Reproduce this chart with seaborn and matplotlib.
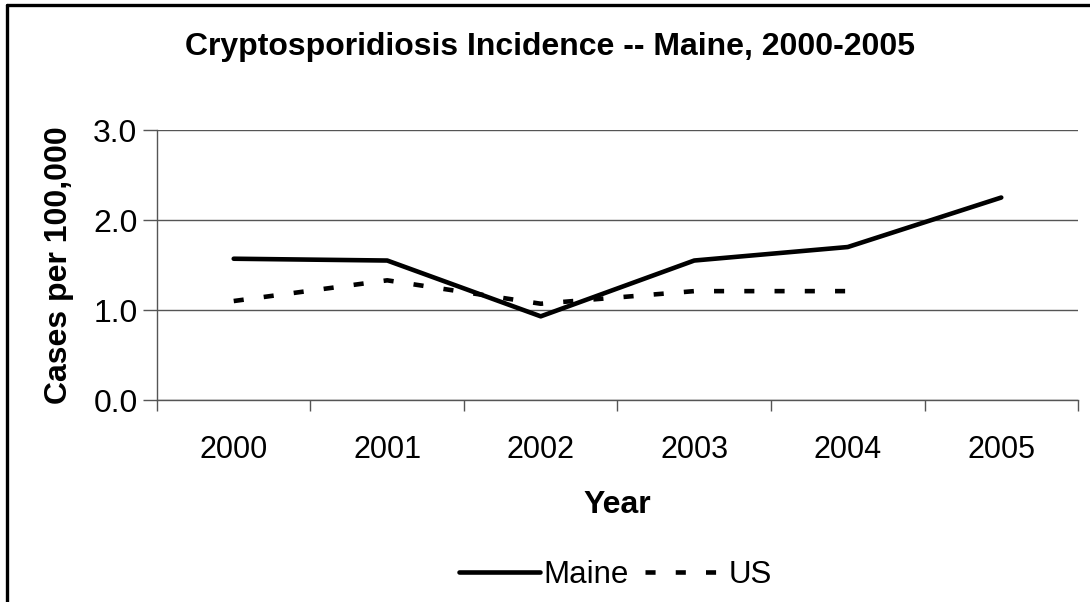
import matplotlib.pyplot as plt
import numpy as np
import pandas as pd
import seaborn as sns
from matplotlib.lines import Line2D

# データ
years = [2000, 2001, 2002, 2003, 2004, 2005]
maine_rate = [1.57, 1.55, 0.93, 1.55, 1.70, 2.25]
us_years = [2000, 2001, 2002, 2003, 2004]
us_rate = [1.10, 1.33, 1.07, 1.21, 1.21]
y_ticks = [0.0, 1.0, 2.0, 3.0]

sns.set_theme(style="white")
plt.rcParams["font.family"] = ["Liberation Sans", "DejaVu Sans"]
plt.rcParams["text.color"] = "black"
plt.rcParams["axes.labelcolor"] = "black"
plt.rcParams["xtick.labelcolor"] = "black"
plt.rcParams["ytick.labelcolor"] = "black"

maine_df = pd.DataFrame({"Year": years, "Rate": maine_rate})
us_df = pd.DataFrame({"Year": us_years, "Rate": us_rate})

fig = plt.figure(figsize=(10.9, 6.02), dpi=100)
ax = fig.add_axes([0.144, 0.3355, 0.845, 0.4485])

sns.lineplot(data=maine_df, x="Year", y="Rate", ax=ax, color="black",
             linewidth=3.3, label="Maine")
sns.lineplot(data=us_df, x="Year", y="Rate", ax=ax, color="black",
             linewidth=3.3, label="US")
ax.lines[1].set_dashes((2.2, 4.4))

ax.set_xlim(years[0] - 0.5, years[-1] + 0.5)
ax.set_ylim(0, 3.0)
ax.set_yticks(y_ticks)
ax.set_yticklabels([f"{v:.1f}" for v in y_ticks], fontsize=23)
ax.set_xticks(years)
ax.set_xticklabels([str(y) for y in years], fontsize=22)
ax.set_xticks(np.arange(years[0] - 0.5, years[-1] + 1.0, 1.0), minor=True)
ax.tick_params(axis="x", which="major", length=0, pad=25)
ax.tick_params(axis="x", which="minor", length=8, width=1, color="#555555",
               direction="out", bottom=True)
ax.tick_params(axis="y", length=10, width=1, color="#555555", direction="out",
               left=True, pad=4)

ax.grid(axis="y", color="#555555", linewidth=1)
ax.set_axisbelow(True)
for side in ["top", "right"]:
    ax.spines[side].set_visible(False)
for side in ["left", "bottom"]:
    ax.spines[side].set_color("#555555")
    ax.spines[side].set_linewidth(1)

ax.set_xlabel("Year", fontsize=23, fontweight="bold", labelpad=18)
ax.set_ylabel("Cases per 100,000", fontsize=23, fontweight="bold", labelpad=14)

fig.text(0.505, 0.922, "Cryptosporidiosis Incidence -- Maine, 2000-2005",
         ha="center", va="center", fontsize=23, fontweight="bold")

ax.legend(loc="center", bbox_to_anchor=(0.498, -0.648), ncol=2, frameon=False,
          fontsize=22.5, handlelength=2.6, handletextpad=0.1, columnspacing=0.5)

# 外枠（上と左のみ）
fig.add_artist(Line2D([0.0065, 1.0], [0.991, 0.991], transform=fig.transFigure,
                      color="black", linewidth=2.4))
fig.add_artist(Line2D([0.0065, 0.0065], [0.0, 0.991], transform=fig.transFigure,
                      color="black", linewidth=2.4))

fig.savefig("out.png", dpi=100)
